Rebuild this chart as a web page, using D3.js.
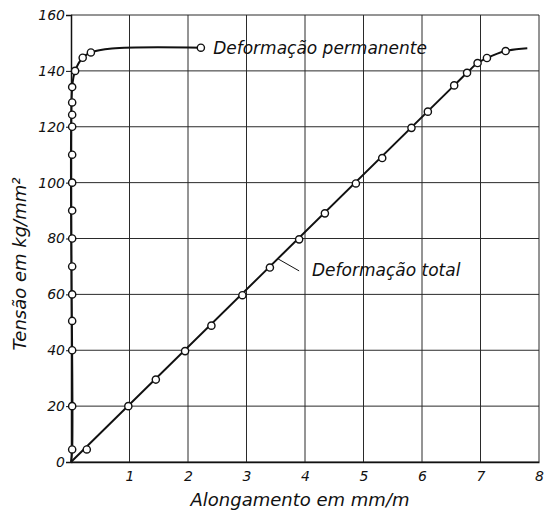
<!DOCTYPE html>
<html>
<head>
<meta charset="utf-8">
<script src="https://cdn.jsdelivr.net/npm/d3@7"></script>
<style>
  html, body { margin: 0; padding: 0; background: #fff; }
  svg text { font-family: "DejaVu Sans", sans-serif; font-style: italic; fill: #111; }
</style>
</head>
<body>
<svg id="chart" width="549" height="517"></svg>
<script>
// tick values
const xTicks = [1, 2, 3, 4, 5, 6, 7, 8];
const yTicks = [0, 20, 40, 60, 80, 100, 120, 140, 160];

// "Deformação permanente" – measured points (mm/m, kg/mm²)
const permX = [0.02, 0.02, 0.02, 0.02, 0.02, 0.02, 0.02, 0.02, 0.02, 0.02, 0.02, 0.02, 0.02, 0.02, 0.07, 0.2, 0.34, 2.22];
const permY = [4.5, 20, 40, 50.5, 60, 70, 80, 90, 100, 110, 120, 124.3, 128.7, 134.2, 140, 144.7, 146.6, 148.3];

// "Deformação total" – measured points
const totX = [0.27, 0.98, 1.45, 1.95, 2.4, 2.93, 3.4, 3.9, 4.34, 4.87, 5.32, 5.82, 6.1, 6.55, 6.77, 6.95, 7.11, 7.43];
const totY = [4.5, 20, 29.5, 39.7, 48.8, 59.7, 69.6, 79.7, 89, 99.7, 108.8, 119.6, 125.4, 134.8, 139.3, 142.8, 144.6, 147.1];

// unmarked curve vertices (start at origin, bends / ends without circles)
const permLineX = [0, 0.02, 0.02, 0.07, 0.2, 0.34, 0.7, 2.22];
const permLineY = [0, 4.5, 134.2, 140, 144.7, 146.6, 148, 148.3];
const totLineX = [0, 6.55, 6.77, 6.95, 7.11, 7.43, 7.8];
const totLineY = [0, 134.8, 139.3, 142.8, 144.6, 147.1, 148.1];

const svg = d3.select("#chart");
const margin = { top: 15, right: 10, bottom: 55, left: 71 };
const width = 549 - margin.left - margin.right;
const height = 517 - margin.top - margin.bottom;

const x = d3.scaleLinear().domain([0, 8]).range([0, width]);
const y = d3.scaleLinear().domain([0, 160]).range([height, 0]);

const g = svg.append("g")
  .attr("transform", "translate(" + margin.left + "," + margin.top + ")");

// grid
g.append("g").selectAll("line").data(xTicks).enter().append("line")
  .attr("x1", d => x(d)).attr("x2", d => x(d))
  .attr("y1", 0).attr("y2", height)
  .attr("stroke", "#2a2a2a").attr("stroke-width", 1);
g.append("g").selectAll("line").data(yTicks).enter().append("line")
  .attr("x1", 0).attr("x2", width)
  .attr("y1", d => y(d)).attr("y2", d => y(d))
  .attr("stroke", "#2a2a2a").attr("stroke-width", 1);

// axes
const xAxis = g.append("g")
  .attr("transform", "translate(0," + height + ")")
  .call(d3.axisBottom(x).tickValues(xTicks).tickSize(0).tickPadding(9).tickFormat(d3.format("d")));
const yAxis = g.append("g")
  .call(d3.axisLeft(y).tickValues(yTicks).tickSize(5).tickPadding(1).tickFormat(d3.format("d")));

[xAxis, yAxis].forEach(a => {
  a.select(".domain").attr("stroke", "#111").attr("stroke-width", 1.5);
  a.selectAll(".tick line").attr("stroke", "#111");
  a.selectAll(".tick text").style("font-size", "14px").attr("fill", "#111");
});

const zip = (xs, ys) => xs.map((v, i) => [v, ys[i]]);

const line = d3.line()
  .x(d => x(d[0])).y(d => y(d[1]))
  .curve(d3.curveCatmullRom.alpha(0.5));

g.append("path").datum(zip(permLineX, permLineY))
  .attr("d", line).attr("fill", "none")
  .attr("stroke", "#111").attr("stroke-width", 2);
g.append("path").datum(zip(totLineX, totLineY))
  .attr("d", line).attr("fill", "none")
  .attr("stroke", "#111").attr("stroke-width", 2);

[zip(permX, permY), zip(totX, totY)].forEach(pts => {
  g.append("g").selectAll("circle").data(pts).enter().append("circle")
    .attr("cx", d => x(d[0])).attr("cy", d => y(d[1]))
    .attr("r", 3.6)
    .attr("fill", "#fff").attr("stroke", "#111").attr("stroke-width", 1.4);
});

// annotations
g.append("text")
  .attr("x", x(2.43)).attr("y", y(146))
  .style("font-size", "17px")
  .text("Deformação permanente");

g.append("line")
  .attr("x1", x(3.54)).attr("y1", y(72.7))
  .attr("x2", x(3.9)).attr("y2", y(68.4))
  .attr("stroke", "#111").attr("stroke-width", 1);
g.append("text")
  .attr("x", x(4.12)).attr("y", y(66.4))
  .style("font-size", "17px")
  .text("Deformação total");

// axis titles
svg.append("text")
  .attr("x", 300).attr("y", 506)
  .attr("text-anchor", "middle")
  .style("font-size", "18px")
  .text("Alongamento em mm/m");

svg.append("text")
  .attr("transform", "translate(26,264) rotate(-90)")
  .attr("text-anchor", "middle")
  .style("font-size", "18px")
  .text("Tensão em kg/mm²");
</script>
</body>
</html>
